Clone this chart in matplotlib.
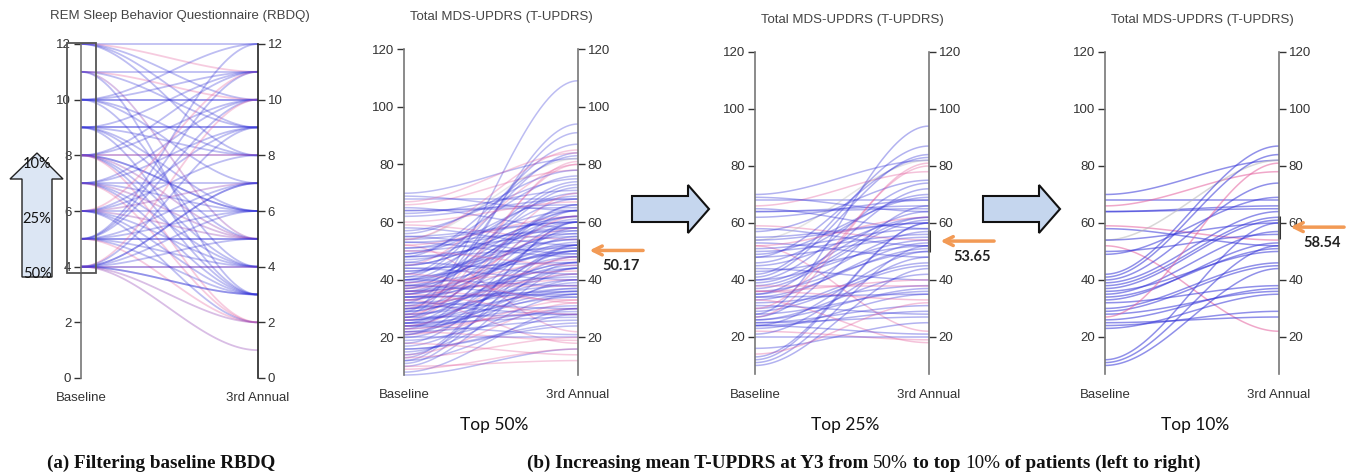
import numpy as np
import matplotlib.pyplot as plt
from matplotlib.patches import Polygon, Rectangle

W, H = 1349, 473

# RBDQ panel: baseline score -> 3rd annual score, colour code per line
rbdq_base = [12, 12, 12, 12, 12,
             11, 11, 11, 11, 11,
             10, 10, 10, 10, 10, 10, 10,
             9, 9, 9, 9, 9, 9, 9,
             8, 8, 8, 8, 8, 8, 8, 8, 8, 8,
             7, 7, 7, 7, 7, 7, 7, 7,
             6, 6, 6, 6, 6, 6, 6, 6, 6,
             5, 5, 5, 5, 5, 5, 5, 5, 5, 5,
             4, 4, 4, 4, 4, 4, 4, 4, 4, 4, 4, 4]
rbdq_y3 = [12, 11, 10, 8, 9,
           11, 10, 5, 3, 9,
           10, 10, 12, 8, 7, 4, 11,
           9, 9, 11, 6, 5, 3, 8,
           8, 8, 6, 6, 4, 3, 10, 11, 5, 2,
           7, 5, 4, 3, 9, 10, 2, 6,
           6, 7, 5, 4, 3, 9, 11, 2, 8,
           5, 5, 3, 4, 7, 10, 11, 2, 6, 12,
           4, 4, 3, 3, 2, 1, 7, 7, 5, 6, 10, 9]
rbdq_col = ("bpbbb" "bpmbb" "bbbbbbb" "bbbbbbb" "bpbbbbbbmp"
            "bmbbbbpb" "bmmbbbpbb" "bbbbbbbpbb" "bmbbmmbbbbpb")

# T-UPDRS, patients in the top 10% RBDQ group
top10_base = [70, 68, 66, 64, 64, 59, 58, 54, 54, 52, 50, 49, 42, 41, 40, 39, 38,
              37, 36, 35, 34, 33, 32, 30, 29, 28, 27, 26, 25, 24, 23, 12, 11, 10]
top10_y3 = [82, 68, 78, 65, 66, 54, 52, 82, 60, 22, 56, 69, 87, 84, 74, 64, 62,
            61, 50, 57, 51, 53, 38, 46, 45, 36, 81, 37, 27, 29, 35, 60, 52, 44]
top10_col = "bbpbbpbgbpbb" "bbbbbbbbbbbbbb" "p" "bbbbbbb"

# extra patients added for the top 25% group
more25_base = [69, 65, 62, 57, 55, 53, 52, 51, 48, 48, 46, 45, 44, 43, 40, 38, 36, 36,
               35, 34, 33, 31, 30, 28, 27, 26, 25, 24, 24, 22, 21, 20, 16, 14, 13]
more25_y3 = [64, 58, 68, 75, 60, 48, 62, 58, 55, 83, 70, 62, 40, 52, 54, 38, 40, 33,
             72, 35, 18, 28, 80, 94, 66, 42, 31, 50, 21, 19, 48, 20, 25, 32, 60]
more25_col = "bbbbbbpbbbbbbbbppp" "bbpbpbbbbbbpbbbpb"

# extra patients added for the top 50% group
more50_base = [7, 8, 9, 10, 12, 13, 14, 15, 16, 17, 18, 18, 19, 20, 21, 21, 22, 22,
               23, 23, 24, 24, 25, 25, 26, 26, 27, 27, 28, 28, 29, 29, 30, 30, 31, 31,
               32, 32, 33, 33, 34, 34, 35, 35, 36, 36, 37, 37, 38, 38, 39, 39, 40, 40,
               41, 42, 42, 43, 44, 45, 45, 46, 47, 48, 49, 50, 51, 53, 54, 55, 56, 60,
               63, 67]
more50_y3 = [16, 30, 16, 12, 28, 20, 46, 35, 24, 40, 14, 52, 30, 44, 33, 58, 26, 39,
             64, 30, 36, 48, 44, 60, 34, 70, 28, 50, 40, 62, 46, 109, 37, 55, 42, 66,
             30, 91, 48, 58, 36, 44, 52, 28, 64, 41, 47, 73, 50, 34, 56, 43, 60, 38,
             49, 68, 32, 54, 46, 80, 62, 42, 58, 51, 76, 45, 64, 57, 85, 49, 78, 67,
             71, 84]
more50_col = ("bbppbpbbbb" "pbbbpbbbbp" "bpbbbpbbbp" "bbbbpbbbbp"
              "bbbpbbpbbb" "bpbbbbpbbp" "bbbbbpbbpb" "bpbp")

mean_y3 = ["50.17", "53.65", "58.54"]
mean_val = [50.17, 53.65, 58.54]
group_names = ["Top 50%", "Top 25%", "Top 10%"]
updrs_ticks = [20, 40, 60, 80, 100, 120]
rbdq_ticks = [0, 2, 4, 6, 8, 10, 12]

colors = {"b": "#3535d8", "p": "#e4609e", "m": "#8a35b0", "g": "#b8b8b8"}
axis_font = "Liberation Sans"

fig = plt.figure(figsize=(W / 100, H / 100), dpi=100)


def P(x, y):
    return (x / W, 1 - y / H)


def make_axes(xl, xr, ytop, ybot):
    ax = fig.add_axes([xl / W, 1 - ybot / H, (xr - xl) / W, (ybot - ytop) / H])
    ax.set_xlim(0, 1)
    ax.patch.set_alpha(0)
    for s in ["top", "bottom"]:
        ax.spines[s].set_visible(False)
    for s in ["left", "right"]:
        ax.spines[s].set_color("#777777")
        ax.spines[s].set_linewidth(1.2)
    ax.set_xticks([])
    ax.tick_params(axis="y", left=True, right=True, labelleft=True, labelright=True,
                   direction="out", length=5, width=1, color="#333333",
                   labelsize=9.5, labelcolor="#333333", pad=2)
    for lab in ax.get_yticklabels():
        lab.set_fontfamily(axis_font)
    return ax


def draw_lines(ax, base, y3, cols, alpha, lw=1.1):
    t = np.linspace(0, 1, 60)
    s = 3 * t ** 2 - 2 * t ** 3
    for a, b, c in zip(base, y3, cols):
        ax.plot(t, a + (b - a) * s, color=colors[c], alpha=alpha, lw=lw,
                solid_capstyle="butt", clip_on=False)


def axis_labels(xl, xr, y, title_y, title):
    fig.text(*P((xl + xr) / 2 + 10, title_y), title, ha="center", va="center",
             fontsize=9.5, color="#444444", family=axis_font)
    fig.text(*P(xl, y), "Baseline", ha="center", va="center", fontsize=9.5,
             color="#333333", family=axis_font)
    fig.text(*P(xr, y), "3rd Annual", ha="center", va="center", fontsize=9.5,
             color="#333333", family=axis_font)


# ---- panel (a): RBDQ ----
axA = make_axes(81, 258, 44, 378)
axA.set_ylim(0, 12)
axA.set_yticks(rbdq_ticks)
axA.spines["right"].set_color("#222222")
draw_lines(axA, rbdq_base, rbdq_y3, rbdq_col, alpha=0.32, lw=1.3)
axis_labels(81, 258, 398, 16, "REM Sleep Behavior Questionnaire (RBDQ)")

# brush box on the baseline axis
x0, y0 = P(67, 273)
x1, y1 = P(96, 43)
fig.patches.append(Rectangle((x0, y0), x1 - x0, y1 - y0, transform=fig.transFigure,
                             fill=False, ec="#555555", lw=1.3))

# vertical up arrow with percentages
up = [(22, 277), (22, 179), (10, 179), (37, 153), (63, 179), (52, 179), (52, 277)]
fig.patches.append(Polygon([P(x, y) for x, y in up], closed=True, transform=fig.transFigure,
                           fc="#dce6f4", ec="#222222", lw=1.0))
for lab, yy in zip(["10%", "25%", "50%"], [164, 219, 274]):
    fig.text(*P(37, yy), lab, ha="center", va="center", fontsize=10.5,
             family="Lato", color="#111111")

# ---- panel (b): T-UPDRS, three groups ----
panels = [(404, 578, 49, 375), (755, 929, 52, 374), (1105, 1279, 52, 374)]
title_ys = [17, 20, 20]
groups = [
    (top10_base + more25_base + more50_base, top10_y3 + more25_y3 + more50_y3,
     top10_col + more25_col + more50_col, 0.33),
    (top10_base + more25_base, top10_y3 + more25_y3, top10_col + more25_col, 0.38),
    (top10_base, top10_y3, top10_col, 0.55),
]

for i, ((xl, xr, yt, yb), (bs, ys, cs, al)) in enumerate(zip(panels, groups)):
    ax = make_axes(xl, xr, yt, yb)
    ax.set_ylim(7, 120)
    ax.set_yticks(updrs_ticks)
    draw_lines(ax, bs, ys, cs, alpha=al)
    axis_labels(xl, xr, 395, title_ys[i], "Total MDS-UPDRS (T-UPDRS)")
    fig.text(*P((xl + xr) / 2 + 3, 425), group_names[i], ha="center", va="center",
             fontsize=12.5, family="Lato", color="#111111")

    # mean marker on the 3rd annual axis
    ax.plot([1.0, 1.0], [mean_val[i] - 4, mean_val[i] + 4], color="#333333", lw=2.2,
            clip_on=False, solid_capstyle="butt")
    ax.annotate("", xy=(1.05, mean_val[i]), xycoords="data",
                xytext=(1.39, mean_val[i]), textcoords="data",
                arrowprops=dict(arrowstyle="->", color="#f29a55", lw=2.5,
                                mutation_scale=16), annotation_clip=False)
    ax.text(1.25, mean_val[i] - 5.5, mean_y3[i], ha="center", va="center",
            fontsize=10.5, family="Lato", fontweight="bold", color="#222222",
            clip_on=False)

# block arrows between panels
for xs in [632, 983]:
    pts = [(xs, 196), (xs + 56, 196), (xs + 56, 185), (xs + 77, 209),
           (xs + 56, 233), (xs + 56, 222), (xs, 222)]
    fig.patches.append(Polygon([P(x, y) for x, y in pts], closed=True,
                               transform=fig.transFigure, fc="#c5d6ee", ec="#111111",
                               lw=1.5))

# captions: bold text with the percentages set in regular weight
renderer = fig.canvas.get_renderer()


def caption(x_px, pieces):
    x = x_px
    for txt, wt in pieces:
        t = fig.text(*P(x, 463), txt, ha="left", va="center", fontsize=13.8,
                     fontweight=wt, family="Liberation Serif", color="#111111")
        x += t.get_window_extent(renderer).width


caption(47, [("(a) Filtering baseline RBDQ", "bold")])
caption(527, [("(b) Increasing mean T-UPDRS at Y3 from ", "bold"), ("50%", "normal"),
              (" to top ", "bold"), ("10%", "normal"),
              (" of patients (left to right)", "bold")])

fig.savefig("out.png", dpi=100)
